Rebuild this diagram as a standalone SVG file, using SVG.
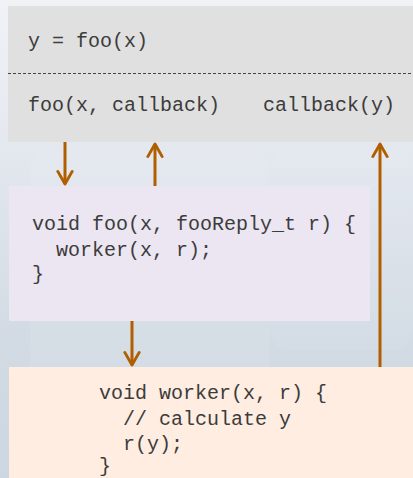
<svg xmlns="http://www.w3.org/2000/svg" width="413" height="478" viewBox="0 0 413 478">
  <defs>
    <linearGradient id="bg" x1="0" y1="0" x2="0" y2="1">
      <stop offset="0" stop-color="#f1f2f6"/>
      <stop offset="0.3" stop-color="#e4e8ef"/>
      <stop offset="0.7" stop-color="#d2dbe4"/>
      <stop offset="1" stop-color="#cdd7e1"/>
    </linearGradient>
    <marker id="head" viewBox="0 0 20 20" refX="17" refY="10" markerWidth="6" markerHeight="6" markerUnits="strokeWidth" orient="auto">
      <path d="M3,2 L17,10 L3,18" fill="none" stroke="#b05e00" stroke-width="3.2" stroke-linecap="round" stroke-linejoin="round"/>
    </marker>
    <style>
      .code { font-family: "Liberation Mono", "Courier New", monospace; font-size: 20px; fill: #3c3c3c; white-space: pre; }
      .conn { stroke: #b05e00; stroke-width: 3; fill: none; marker-end: url(#head); }
    </style>
  </defs>
  <rect width="413" height="478" fill="url(#bg)"/>
  <rect x="30" y="150" width="240" height="320" rx="20" fill="#ffffff" opacity="0.07"/>
  <rect x="270" y="150" width="143" height="200" rx="20" fill="#ffffff" opacity="0.06"/>

  <g id="caller">
    <rect x="8" y="6" width="405" height="136" fill="#e0e0e0"/>
    <line x1="8" y1="73.5" x2="413" y2="73.5" stroke="#444" stroke-width="1" stroke-dasharray="3,2"/>
    <text class="code" x="28" y="47">y = foo(x)</text>
    <text class="code" x="28" y="111">foo(x, callback)</text>
    <text class="code" x="263" y="111">callback(y)</text>
  </g>

  <g id="foo">
    <rect x="9" y="186" width="361" height="135" fill="#ebe6f1"/>
    <text class="code" x="32" y="230">void foo(x, fooReply_t r) {</text>
    <text class="code" x="32" y="256">  worker(x, r);</text>
    <text class="code" x="32" y="280">}</text>
  </g>

  <g id="worker">
    <rect x="9" y="367" width="404" height="111" fill="#feede0"/>
    <text class="code" x="99" y="399">void worker(x, r) {</text>
    <text class="code" x="99" y="425">  // calculate y</text>
    <text class="code" x="99" y="450">  r(y);</text>
    <text class="code" x="99" y="472">}</text>
  </g>

  <g id="connectors">
    <line class="conn" x1="65" y1="142" x2="65" y2="184"/>
    <line class="conn" x1="155" y1="186" x2="155" y2="144"/>
    <line class="conn" x1="132" y1="321" x2="132" y2="365"/>
    <line class="conn" x1="380" y1="367" x2="380" y2="144"/>
  </g>
</svg>
